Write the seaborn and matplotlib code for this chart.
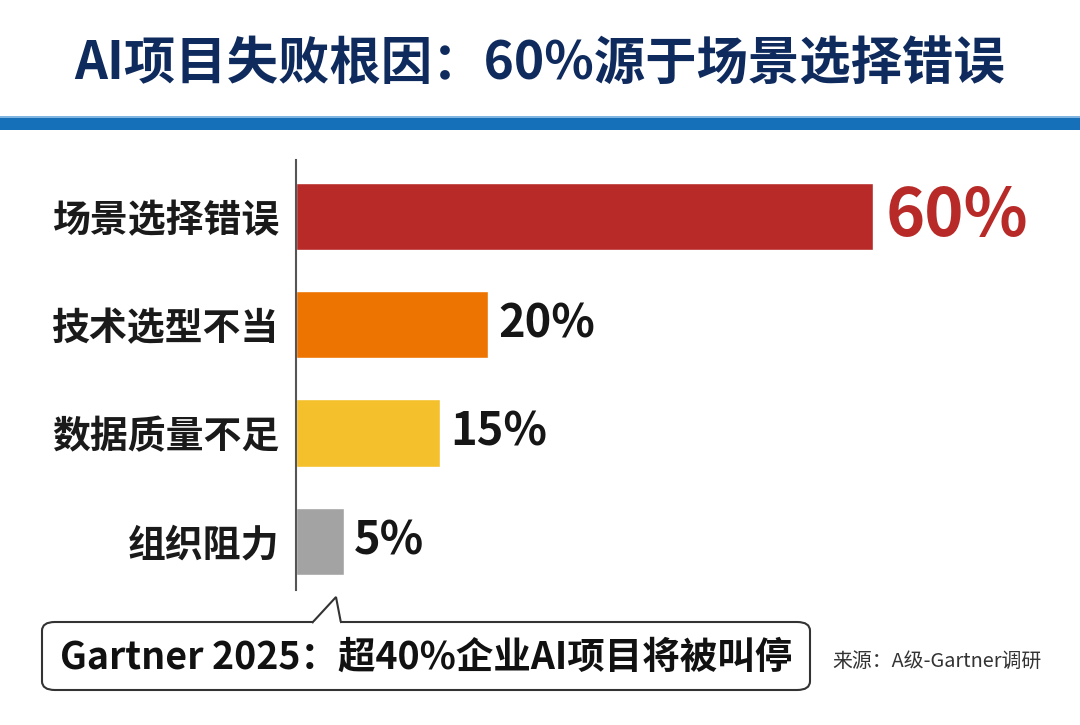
import numpy as np
import pandas as pd
import matplotlib.pyplot as plt
import seaborn as sns
from matplotlib.patches import FancyBboxPatch, Polygon, Rectangle

# Data
categories = ['场景选择错误', '技术选型不当', '数据质量不足', '组织阻力']
values = [60, 20, 15, 5]
bar_colors = ['#b72a27', '#ee7402', '#f4c02c', '#a3a3a3']
label_colors = ['#b72a27', '#161616', '#161616', '#161616']
label_sizes = [48, 32.5, 32.5, 32.5]
title_text = 'AI项目失败根因：60%源于场景选择错误'
callout_text = 'Gartner 2025：超40%企业AI项目将被叫停'
source_text = '来源：A级-Gartner调研'

sns.set_style('white')
plt.rcParams['font.family'] = ['Noto Sans CJK SC', 'DejaVu Sans']

df = pd.DataFrame({'cause': categories, 'pct': values})

fig = plt.figure(figsize=(10.8, 7.25), dpi=100)
fig.patch.set_facecolor('white')

# Title and blue band
fig.text(0.5, 1 - 63 / 725, title_text, ha='center', va='center',
         fontsize=37, fontweight='heavy', color='#0f2b5e')
fig.patches.append(Rectangle((0, 1 - 130 / 725), 1, 13 / 725, transform=fig.transFigure,
                             facecolor='#1570b9', edgecolor='none'))
fig.patches.append(Rectangle((0, 1 - 118 / 725), 1, 2 / 725, transform=fig.transFigure,
                             facecolor='#7fb5e0', edgecolor='none'))

# Bar chart
ax = fig.add_axes([296 / 1080, 135 / 725, 1 - 296 / 1080, 430 / 725])
sns.barplot(data=df, x='pct', y='cause', hue='cause', palette=bar_colors,
            legend=False, width=0.62, saturation=1, ax=ax)
ax.set_xlim(0, 81.5)
ax.set_ylim(3.45, -0.52)
ax.set_xlabel('')
ax.set_ylabel('')
ax.set_xticks([])
sns.despine(ax=ax, top=True, right=True, bottom=True)
ax.spines['left'].set_color('#555555')
ax.spines['left'].set_linewidth(1.5)
ax.tick_params(axis='y', length=0, pad=12)
for t in ax.get_yticklabels():
    t.set_fontsize(27.3)
    t.set_fontweight('bold')
    t.set_color('#1a1a1a')

for i, c in enumerate(ax.containers):
    ax.bar_label(c, labels=[f'{values[i]}%'], padding=9 if i == 0 else 7,
                 fontsize=label_sizes[i], fontweight='bold', color=label_colors[i])

# Callout box with tail
fig.patches.append(FancyBboxPatch((42 / 1080, 1 - 690 / 725), 768 / 1080, 68 / 725,
                                  boxstyle='round,pad=0,rounding_size=0.012',
                                  transform=fig.transFigure, facecolor='white',
                                  edgecolor='#333333', linewidth=1.5, zorder=5))
tail = Polygon([(312 / 1080, 1 - 623 / 725), (336 / 1080, 1 - 597 / 725),
                (341 / 1080, 1 - 623 / 725)], closed=False, transform=fig.transFigure,
               facecolor='white', edgecolor='#333333', linewidth=1.5, zorder=6)
fig.patches.append(tail)
fig.patches.append(Rectangle((313.5 / 1080, 1 - 624.5 / 725), 26 / 1080, 3 / 725,
                             transform=fig.transFigure, facecolor='white',
                             edgecolor='none', zorder=7))
fig.text(426 / 1080, 1 - 657 / 725, callout_text, ha='center', va='center',
         fontsize=27, fontweight='bold', color='#111111', zorder=8)
fig.text(832 / 1080, 1 - 661 / 725, source_text, ha='left', va='center',
         fontsize=14.3, color='#333333')

fig.savefig('out.png', dpi=100, facecolor='white')
